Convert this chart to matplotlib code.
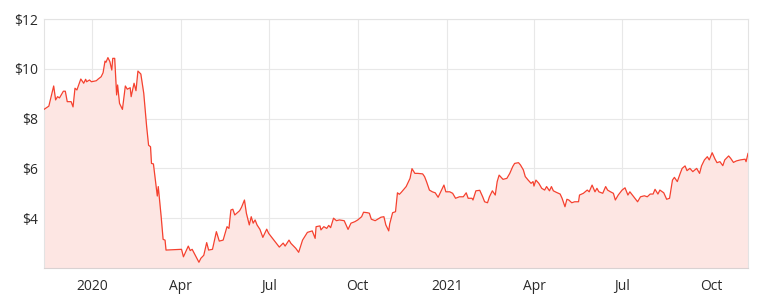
import matplotlib
matplotlib.use("Agg")
import matplotlib.pyplot as plt
import matplotlib.dates as mdates
import matplotlib.ticker as tck
import pandas as pd

# closing price
dates = [
    "2019-11-12", "2019-11-17", "2019-11-22", "2019-11-24", "2019-11-26", "2019-11-28",
    "2019-12-02", "2019-12-04", "2019-12-06", "2019-12-10", "2019-12-12", "2019-12-14",
    "2019-12-16", "2019-12-20", "2019-12-23", "2019-12-25", "2019-12-26", "2019-12-29",
    "2019-12-31", "2020-01-05", "2020-01-07", "2020-01-10", "2020-01-12", "2020-01-14",
    "2020-01-15", "2020-01-17", "2020-01-19", "2020-01-21", "2020-01-22", "2020-01-24",
    "2020-01-26", "2020-01-27", "2020-01-29", "2020-02-01", "2020-02-04", "2020-02-06",
    "2020-02-09", "2020-02-10", "2020-02-13", "2020-02-15", "2020-02-17", "2020-02-20",
    "2020-02-23", "2020-02-26", "2020-02-28", "2020-03-01", "2020-03-02", "2020-03-04",
    "2020-03-06", "2020-03-08", "2020-03-09", "2020-03-12", "2020-03-14", "2020-03-16",
    "2020-03-17", "2020-04-02", "2020-04-04", "2020-04-09", "2020-04-11", "2020-04-13",
    "2020-04-17", "2020-04-20", "2020-04-22", "2020-04-25", "2020-04-28", "2020-04-30",
    "2020-05-04", "2020-05-08", "2020-05-11", "2020-05-15", "2020-05-19", "2020-05-21",
    "2020-05-23", "2020-05-25", "2020-05-27", "2020-05-29", "2020-06-01", "2020-06-03",
    "2020-06-06", "2020-06-08", "2020-06-11", "2020-06-13", "2020-06-15", "2020-06-17",
    "2020-06-19", "2020-06-22", "2020-06-25", "2020-06-29", "2020-07-01", "2020-07-05",
    "2020-07-09", "2020-07-12", "2020-07-16", "2020-07-18", "2020-07-22", "2020-07-24",
    "2020-07-29", "2020-08-01", "2020-08-05", "2020-08-10", "2020-08-15", "2020-08-18",
    "2020-08-19", "2020-08-23", "2020-08-24", "2020-08-27", "2020-08-30", "2020-09-01",
    "2020-09-03", "2020-09-06", "2020-09-09", "2020-09-12", "2020-09-17", "2020-09-21",
    "2020-09-24", "2020-09-28", "2020-10-01", "2020-10-05", "2020-10-07", "2020-10-11",
    "2020-10-13", "2020-10-15", "2020-10-19", "2020-10-22", "2020-10-25", "2020-10-28",
    "2020-10-30", "2020-11-02", "2020-11-03", "2020-11-06", "2020-11-09", "2020-11-11",
    "2020-11-13", "2020-11-15", "2020-11-17", "2020-11-20", "2020-11-24", "2020-11-26",
    "2020-11-29", "2020-12-02", "2020-12-07", "2020-12-09", "2020-12-11", "2020-12-14",
    "2020-12-17", "2020-12-20", "2020-12-23", "2020-12-27", "2020-12-29", "2020-12-31",
    "2021-01-04", "2021-01-07", "2021-01-10", "2021-01-14", "2021-01-18", "2021-01-21",
    "2021-01-23", "2021-01-27", "2021-01-28", "2021-01-31", "2021-02-04", "2021-02-07",
    "2021-02-09", "2021-02-12", "2021-02-14", "2021-02-17", "2021-02-20", "2021-02-22",
    "2021-02-24", "2021-02-28", "2021-03-04", "2021-03-07", "2021-03-10", "2021-03-12",
    "2021-03-16", "2021-03-18", "2021-03-21", "2021-03-23", "2021-03-26", "2021-03-29",
    "2021-03-31", "2021-04-01", "2021-04-03", "2021-04-06", "2021-04-09", "2021-04-12",
    "2021-04-14", "2021-04-17", "2021-04-19", "2021-04-21", "2021-04-24", "2021-04-28",
    "2021-04-30", "2021-05-03", "2021-05-05", "2021-05-07", "2021-05-10", "2021-05-13",
    "2021-05-17", "2021-05-18", "2021-05-22", "2021-05-26", "2021-05-28", "2021-05-31",
    "2021-06-03", "2021-06-05", "2021-06-07", "2021-06-11", "2021-06-14", "2021-06-16",
    "2021-06-19", "2021-06-22", "2021-06-24", "2021-06-27", "2021-07-01", "2021-07-04",
    "2021-07-07", "2021-07-09", "2021-07-13", "2021-07-17", "2021-07-20", "2021-07-24",
    "2021-07-27", "2021-07-30", "2021-08-02", "2021-08-04", "2021-08-07", "2021-08-09",
    "2021-08-13", "2021-08-16", "2021-08-19", "2021-08-22", "2021-08-24", "2021-08-27",
    "2021-08-30", "2021-09-01", "2021-09-04", "2021-09-06", "2021-09-09", "2021-09-12",
    "2021-09-16", "2021-09-19", "2021-09-21", "2021-09-24", "2021-09-27", "2021-09-29",
    "2021-10-02", "2021-10-05", "2021-10-07", "2021-10-10", "2021-10-13", "2021-10-15",
    "2021-10-19", "2021-10-21", "2021-10-24", "2021-10-27", "2021-10-31", "2021-11-05",
    "2021-11-06", "2021-11-08",
]
prices = [
    8.37, 8.50, 9.31, 8.75, 8.88, 8.83,
    9.10, 9.10, 8.68, 8.68, 8.47, 9.22,
    9.15, 9.59, 9.42, 9.58, 9.48, 9.55,
    9.48, 9.52, 9.59, 9.68, 9.84, 10.31,
    10.26, 10.45, 10.29, 9.95, 10.42, 10.42,
    8.95, 9.35, 8.61, 8.37, 9.31, 9.18,
    9.24, 8.88, 9.42, 9.12, 9.91, 9.79,
    9.02, 7.68, 6.93, 6.87, 6.20, 6.18,
    5.53, 4.89, 5.27, 4.06, 3.15, 3.12,
    2.72, 2.75, 2.45, 2.88, 2.70, 2.75,
    2.45, 2.23, 2.39, 2.51, 3.02, 2.72,
    2.75, 3.46, 3.08, 3.12, 3.66, 3.59,
    4.33, 4.36, 4.13, 4.20, 4.30, 4.44,
    4.73, 4.20, 3.73, 4.06, 3.80, 3.93,
    3.73, 3.55, 3.23, 3.56, 3.39, 3.19,
    2.99, 2.84, 3.00, 2.88, 3.12, 2.99,
    2.79, 2.63, 3.12, 3.43, 3.49, 3.19,
    3.66, 3.69, 3.53, 3.66, 3.59, 3.71,
    3.62, 4.00, 3.90, 3.93, 3.90, 3.55,
    3.80, 3.86, 3.93, 4.06, 4.24, 4.22,
    4.20, 3.96, 3.90, 3.97, 4.04, 4.06,
    3.73, 3.49, 3.77, 4.22, 4.26, 5.02,
    4.96, 5.04, 5.13, 5.27, 5.60, 5.99,
    5.80, 5.80, 5.78, 5.67, 5.47, 5.13,
    5.06, 5.02, 4.84, 5.16, 5.33, 5.06,
    5.06, 5.00, 4.80, 4.86, 4.86, 5.02,
    4.80, 4.80, 4.73, 5.10, 5.12, 4.86,
    4.66, 4.62, 4.86, 5.10, 4.93, 5.47,
    5.73, 5.56, 5.60, 5.80, 6.07, 6.20,
    6.23, 6.14, 5.94, 5.67, 5.53, 5.40,
    5.47, 5.29, 5.53, 5.40, 5.20, 5.13,
    5.27, 5.10, 5.27, 5.10, 5.04, 4.97,
    4.80, 4.46, 4.76, 4.73, 4.62, 4.66,
    4.66, 4.93, 5.00, 5.13, 5.06, 5.33,
    5.06, 5.20, 5.06, 5.00, 5.27, 5.13,
    5.06, 5.00, 4.73, 4.93, 5.13, 5.22,
    4.93, 5.06, 4.86, 4.66, 4.86, 4.90,
    4.86, 4.97, 4.97, 5.16, 4.97, 5.13,
    5.02, 4.76, 4.80, 5.53, 5.64, 5.47,
    5.80, 6.00, 6.10, 5.91, 6.00, 5.87,
    6.00, 5.80, 6.10, 6.34, 6.47, 6.34,
    6.63, 6.37, 6.23, 6.27, 6.11, 6.34,
    6.50, 6.41, 6.24, 6.30, 6.34, 6.37,
    6.27, 6.60,
]
y_ticks = [4, 6, 8, 10, 12]

x = pd.to_datetime(dates)

plt.rcParams['font.family'] = ['Open Sans', 'DejaVu Sans']

fig = plt.figure(figsize=(7.62, 3.01), dpi=100)
ax = fig.add_axes([44 / 762, 33 / 301, 704 / 762, 249 / 301])

ax.fill_between(x, prices, 2, color='#fde6e3', lw=0, zorder=1)
ax.plot(x, prices, color='#f5412f', lw=0.9, zorder=3)

ax.set_ylim(2, 12)
ax.set_xlim(x[0], x[-1])
ax.set_yticks(y_ticks)
ax.yaxis.set_major_formatter(tck.FuncFormatter(lambda v, p: f'${v:.0f}'))

ax.xaxis.set_major_locator(mdates.MonthLocator(bymonth=[1, 4, 7, 10]))
def fmt_date(v, p):
    d = mdates.num2date(v)
    return str(d.year) if d.month == 1 else d.strftime('%b')
ax.xaxis.set_major_formatter(tck.FuncFormatter(fmt_date))

ax.grid(True, color='#e8e8e8', lw=0.8, zorder=0)
ax.set_axisbelow(True)
for s in ax.spines.values():
    s.set_color('#e3e3e3')
    s.set_linewidth(0.8)
ax.spines['bottom'].set_color('#d9d2d2')

ax.tick_params(length=0, labelsize=10, colors='#2a2a2a')
ax.tick_params(axis='x', pad=8)
ax.tick_params(axis='y', pad=4)

fig.savefig('out.png', dpi=100)
